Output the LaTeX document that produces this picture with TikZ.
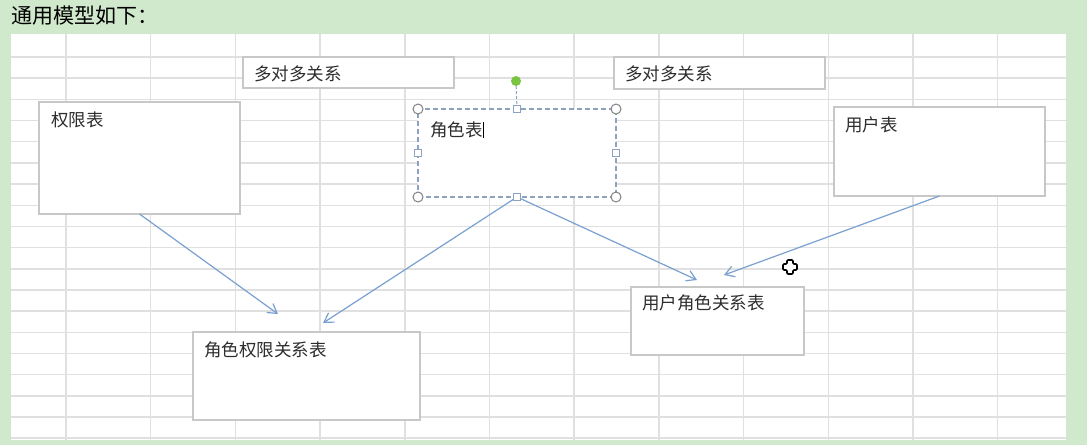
\documentclass[tikz,border=0pt]{standalone}
\usepackage{fontspec}
\setmainfont{Noto Sans CJK SC}
\usetikzlibrary{arrows.meta,calc}
\definecolor{bggreen}{RGB}{208,232,203}
\definecolor{gridgray}{RGB}{224,224,224}
\definecolor{boxgray}{RGB}{200,200,200}
\definecolor{arrblue}{RGB}{122,160,208}
\definecolor{selblue}{RGB}{140,162,190}
\definecolor{txtgray}{RGB}{45,45,45}
\definecolor{handlegray}{RGB}{130,130,130}
\definecolor{handlegreen}{RGB}{122,196,66}
\tikzset{
  tbox/.style={draw=boxgray, line width=1.3pt, fill=white, rectangle, inner sep=0pt, outer sep=0pt, anchor=north west},
  selbox/.style={draw=selblue, line width=1.3pt, dash pattern=on 5pt off 3pt, fill=white, rectangle, inner sep=0pt, outer sep=0pt, anchor=north west},
  lbl/.style={anchor=west, inner sep=0pt, text=txtgray, font=\fontsize{17.5}{20}\selectfont},
  arr/.style={draw=arrblue, line width=1.2pt, -{Straight Barb[length=9pt,width=11pt,line width=1.2pt]}},
  cornerh/.style={draw=handlegray, fill=white, line width=1pt},
  sideh/.style={draw=selblue, fill=white, line width=1pt},
  gridline/.style={draw=gridgray, line width=1.5pt}
}
\begin{document}
\begin{tikzpicture}[x=1pt,y=-1pt]
\useasboundingbox (0,0) rectangle (1087,445);
\fill[bggreen] (0,0) rectangle (1087,445);
\node[anchor=west, inner sep=0pt, font=\fontsize{21}{24}\selectfont, text=black] (title) at (11,16) {通用模型如下：};
\fill[white] (11,34) rectangle (1066,440);
\begin{scope}
\clip (11,34) rectangle (1066,440);
\foreach \k in {0,...,11} {
  \draw[gridline] ({66+84.7*\k},34) -- ({66+84.7*\k},440);
}
\foreach \k in {0,...,18} {
  \draw[gridline] (11,{57+21.18*\k}) -- (1066,{57+21.18*\k});
}
\end{scope}

% boxes
\node[tbox, minimum width=211pt, minimum height=31pt] (mm1) at (243,57) {};
\node[tbox, minimum width=211pt, minimum height=32pt] (mm2) at (614,57) {};
\node[tbox, minimum width=201pt, minimum height=112pt] (perm) at (39,102) {};
\node[tbox, minimum width=211pt, minimum height=89pt] (user) at (834,107) {};
\node[tbox, minimum width=173pt, minimum height=68pt] (ur) at (631,287) {};
\node[tbox, minimum width=227pt, minimum height=88pt] (rp) at (193,332) {};
\node[selbox, minimum width=198pt, minimum height=88pt] (role) at (418,109) {};

% labels
\node[lbl] (mm1t) at ($(mm1.north west)+(11,17)$) {多对多关系};
\node[lbl] (mm2t) at ($(mm2.north west)+(11,17)$) {多对多关系};
\node[lbl] (permt) at ($(perm.north west)+(12,18)$) {权限表};
\node[lbl] (rolet) at ($(role.north west)+(12,21)$) {角色表};
\node[lbl] (usert) at ($(user.north west)+(11,18)$) {用户表};
\node[lbl] (urt) at ($(ur.north west)+(11,16)$) {用户角色关系表};
\node[lbl] (rpt) at ($(rp.north west)+(11,18)$) {角色权限关系表};
% text cursor
\draw[black, line width=0.9pt] ($(rolet.east)+(1,-8)$) -- ($(rolet.east)+(1,8)$);

% arrow end points
\coordinate (e1) at (278,314);
\coordinate (e2) at (323,323);
\coordinate (e3) at (697,280);
\coordinate (e4) at (724,275);
\draw[arr] (perm.south) -- (e1);
\draw[arr] (role.south) -- (e2);
\draw[arr] (role.south) -- (e3);
\draw[arr] (user.south) -- (e4);

% selection handles
\coordinate (rot) at (516,81);
\draw[selblue, line width=1pt, dash pattern=on 3pt off 2pt] (rot) -- (role.north);
\fill[handlegreen] (rot) circle (5pt);
\foreach \a in {north west,north east,south west,south east} {
  \draw[cornerh] (role.\a) circle (5pt);
}
\foreach \a in {north,south,east,west} {
  \draw[sideh] ($(role.\a)+(-3.5,-3.5)$) rectangle ($(role.\a)+(3.5,3.5)$);
}

% move cursor
\coordinate (cur) at (790,267);
\draw[black, fill=white, line width=1.6pt, line join=round, rounded corners=1pt]
  ($(cur)+(-3,-7)$) -- ($(cur)+(3,-7)$) -- ($(cur)+(3,-3)$) -- ($(cur)+(7,-3)$) -- ($(cur)+(7,3)$) -- ($(cur)+(3,3)$) -- ($(cur)+(3,7)$) -- ($(cur)+(-3,7)$) -- ($(cur)+(-3,3)$) -- ($(cur)+(-7,3)$) -- ($(cur)+(-7,-3)$) -- ($(cur)+(-3,-3)$) -- cycle;
\end{tikzpicture}
\end{document}
